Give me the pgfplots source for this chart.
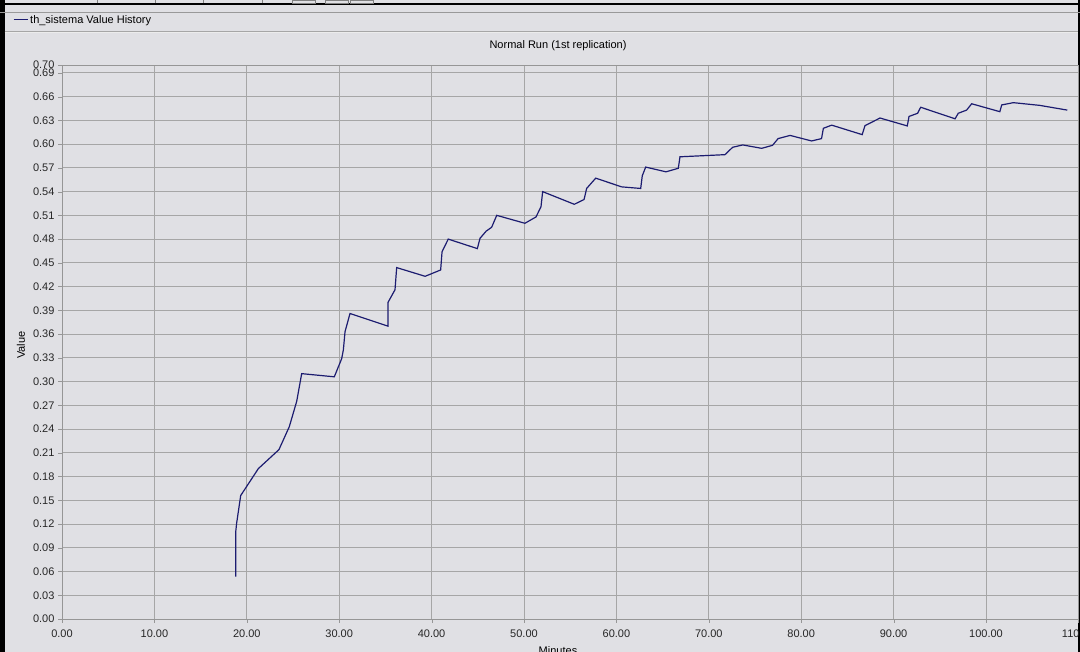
\documentclass[border=0pt]{standalone}
\usepackage{fontspec}
\setmainfont{Liberation Sans}
\usepackage{pgfplots}
\pgfplotsset{compat=1.18}
\definecolor{bg}{RGB}{224,224,228}
\definecolor{gridc}{RGB}{166,166,166}
\definecolor{navy}{RGB}{28,28,112}
\definecolor{axc}{RGB}{150,150,150}
\begin{document}
\begin{tikzpicture}[x=1pt,y=1pt]
\useasboundingbox (0,0) rectangle (1080,652);
\clip (0,0) rectangle (1080,652);
\fill[bg] (0,0) rectangle (1080,652);
% window chrome
\fill[black] (0,0) rectangle (4.5,652);
\fill[black] (1077.5,0) rectangle (1080,652);
\fill[black] (0,646.5) rectangle (1080,648.5);
\draw[gray!80] (0,640) -- (1080,640);
\draw[gridc] (4.5,620.5) -- (1077.5,620.5);
\draw[white!85!gray] (4.5,619.5) -- (1077.5,619.5);
\foreach \xx in {97,155,203,262} \draw[gray] (\xx,648.5) -- (\xx,652);
\draw[gray] (292,648.5) rectangle (315,652);
\draw[gray] (325,648.5) rectangle (348,652);
\draw[gray] (350,648.5) rectangle (373,652);
\begin{axis}[
  at={(62pt,33pt)}, anchor=south west,
  scale only axis, width=1016.4pt, height=554pt,
  xmin=0, xmax=110, ymin=0, ymax=0.70,
  axis background/.style={fill=bg},
  axis line style={axc},
  grid=major, major grid style={gridc, line width=0.9pt},
  tick pos=left, tick align=outside, major tick length=4pt,
  tick style={axc},
  xtick={0,10,20,30,40,50,60,70,80,90,100,110},
  ytick={0,0.03,0.06,0.09,0.12,0.15,0.18,0.21,0.24,0.27,0.30,0.33,0.36,0.39,0.42,0.45,0.48,0.51,0.54,0.57,0.60,0.63,0.66,0.69,0.70},
  xticklabel style={yshift=-3pt, /pgf/number format/.cd, fixed, fixed zerofill, precision=2, 1000 sep={}},
  yticklabel style={/pgf/number format/.cd, fixed, fixed zerofill, precision=2},
  /pgf/number format/assume math mode=true,
  ticklabel style={font=\fontsize{11}{13}\selectfont, text=black!85},
  legend style={at={(-0.0482,1.0813)}, anchor=west, draw=none, fill=none,
    font=\fontsize{11}{13}\selectfont, inner sep=0pt},
  legend image code/.code={\draw[#1, line width=1pt] (0pt,0pt) -- (14pt,0pt);},
  legend cell align=left,
]
\addplot[navy, line width=1.2pt] coordinates {
(18.8,0.0535) (18.8,0.110) (18.9,0.121) (19.34,0.156) (21.25,0.190)
(23.48,0.214) (24.6,0.243) (25.4,0.275) (25.94,0.310) (29.47,0.306)
(30.27,0.329) (30.45,0.340) (30.63,0.363) (31.17,0.386) (35.28,0.370)
(35.28,0.400) (36.04,0.416) (36.22,0.444) (39.3,0.433) (40.98,0.441)
(41.13,0.464) (41.8,0.480) (44.95,0.468) (45.24,0.481) (45.9,0.490)
(46.5,0.495) (47.05,0.510) (50.1,0.500) (51.3,0.508) (51.84,0.521)
(52.02,0.540) (55.44,0.524) (56.5,0.530) (56.78,0.544) (57.76,0.557)
(60.57,0.546) (62.63,0.544) (62.8,0.560) (63.17,0.571) (65.37,0.565)
(66.7,0.5695) (66.88,0.584) (71.75,0.5867) (72.58,0.596) (73.67,0.599)
(75.72,0.5947) (76.9,0.5985) (77.5,0.607) (78.8,0.611) (81.13,0.604)
(82.2,0.607) (82.4,0.620) (83.3,0.624) (86.6,0.612) (86.9,0.6233)
(88.53,0.633) (91.48,0.623) (91.67,0.635) (92.6,0.639) (92.93,0.6466)
(96.65,0.632) (97.0,0.639) (97.9,0.643) (98.45,0.651) (101.5,0.641)
(101.7,0.6495) (102.96,0.6524) (105.8,0.649) (108.8,0.643)
};
\addlegendentry{th\_sistema Value History}
\end{axis}
\node[font=\fontsize{11}{13}\selectfont] at (558,606) {Normal Run (1st replication)};
\node[font=\fontsize{11}{13}\selectfont, rotate=90] at (21,307) {Value};
\node[font=\fontsize{11}{13}\selectfont, anchor=north, inner sep=0pt] at (558,6) {Minutes};
\end{tikzpicture}
\end{document}
